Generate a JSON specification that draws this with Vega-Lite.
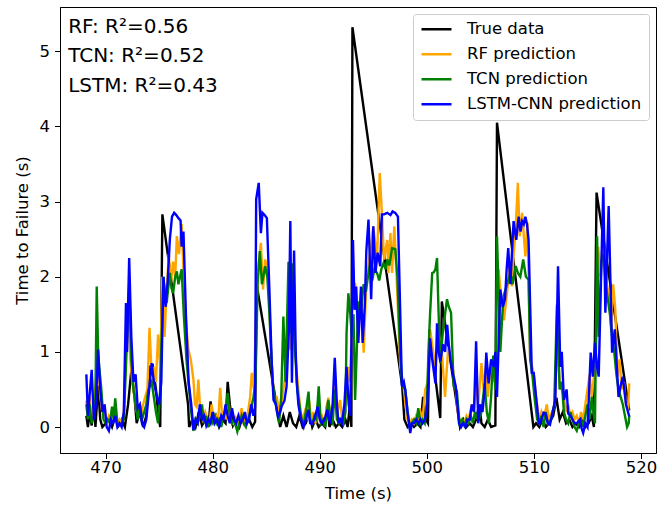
{
"$schema": "https://vega.github.io/schema/vega-lite/v6.json",
"width": 596, "height": 446,
"autosize": {"type": "none"},
"padding": {"left": 60, "top": 7, "right": 1, "bottom": 56},
"background": "white",
"config": {
 "font": "DejaVu Sans",
 "view": {"stroke": "black", "strokeWidth": 1},
 "axis": {"grid": false, "domainColor": "black", "tickColor": "black", "labelColor": "black", "titleColor": "black", "labelFontSize": 16.5, "titleFontSize": 16.5, "titleFontWeight": "normal", "tickSize": 5.5, "labelFont": "DejaVu Sans", "titleFont": "DejaVu Sans"},
 "legend": {"orient": "top-right", "offset": 7, "symbolType": "stroke", "symbolStrokeWidth": 2.4, "symbolSize": 900, "labelFontSize": 16.5, "labelFont": "DejaVu Sans", "labelColor": "black", "labelOffset": 14, "labelLimit": 400, "padding": 7, "rowPadding": 8, "clipHeight": 16.5, "fillColor": "white", "strokeColor": "#cccccc", "cornerRadius": 3, "title": null}
},
"datasets": {
"truth": [
{"t":468.2,"v":0.15},{"t":468.35,"v":0.0},{"t":468.5,"v":0.2},{"t":468.7,"v":0.02},{"t":468.9,"v":0.3},{"t":469.05,"v":0.0},{"t":469.3,"v":0.55},{"t":469.5,"v":0.1},{"t":469.7,"v":0.0},{"t":470.0,"v":0.05},{"t":470.3,"v":0.1},{"t":470.6,"v":0.0},{"t":470.9,"v":0.15},{"t":471.2,"v":0.02},{"t":471.5,"v":0.1},{"t":471.8,"v":0.0},{"t":472.1,"v":0.3},{"t":472.4,"v":0.75},{"t":472.7,"v":0.4},{"t":472.9,"v":0.05},{"t":473.2,"v":0.2},{"t":473.5,"v":0.0},{"t":473.8,"v":0.15},{"t":474.1,"v":0.8},{"t":474.4,"v":0.82},{"t":474.7,"v":0.5},{"t":474.9,"v":0.2},{"t":475.1,"v":0.0},{"t":475.3,"v":2.83},{"t":477.7,"v":0.3},{"t":477.8,"v":0.0},{"t":478.1,"v":0.1},{"t":478.4,"v":0.0},{"t":478.7,"v":0.2},{"t":479.0,"v":0.02},{"t":479.3,"v":0.1},{"t":479.6,"v":0.0},{"t":479.8,"v":0.34},{"t":480.0,"v":0.05},{"t":480.3,"v":0.15},{"t":480.6,"v":0.0},{"t":480.9,"v":0.1},{"t":481.2,"v":0.05},{"t":481.4,"v":0.6},{"t":481.6,"v":0.3},{"t":481.9,"v":0.02},{"t":482.2,"v":0.1},{"t":482.5,"v":0.0},{"t":482.8,"v":0.15},{"t":483.1,"v":0.05},{"t":483.4,"v":0.1},{"t":483.7,"v":0.0},{"t":483.96,"v":0.07},{"t":484.1,"v":1.9},{"t":486.3,"v":0.0},{"t":486.6,"v":0.15},{"t":486.9,"v":0.0},{"t":487.2,"v":0.2},{"t":487.5,"v":0.05},{"t":487.8,"v":0.0},{"t":488.1,"v":0.15},{"t":488.4,"v":0.0},{"t":488.7,"v":0.05},{"t":489.0,"v":0.2},{"t":489.3,"v":0.0},{"t":489.6,"v":0.1},{"t":489.9,"v":0.0},{"t":490.2,"v":0.05},{"t":490.5,"v":0.0},{"t":490.7,"v":0.32},{"t":490.9,"v":0.0},{"t":491.2,"v":0.1},{"t":491.5,"v":0.0},{"t":491.8,"v":0.05},{"t":492.1,"v":0.0},{"t":492.4,"v":0.1},{"t":492.6,"v":0.0},{"t":492.8,"v":0.27},{"t":492.95,"v":0.0},{"t":493.05,"v":5.32},{"t":497.7,"v":0.54},{"t":497.9,"v":0.1},{"t":498.2,"v":0.0},{"t":498.5,"v":0.05},{"t":498.8,"v":0.0},{"t":499.1,"v":0.05},{"t":499.4,"v":0.0},{"t":499.65,"v":0.4},{"t":499.9,"v":0.1},{"t":500.1,"v":0.05},{"t":500.25,"v":1.3},{"t":501.25,"v":0.12},{"t":501.4,"v":1.67},{"t":503.1,"v":0.0},{"t":503.4,"v":0.1},{"t":503.7,"v":0.0},{"t":504.0,"v":0.05},{"t":504.3,"v":0.0},{"t":504.6,"v":0.1},{"t":504.9,"v":0.3},{"t":505.1,"v":0.05},{"t":505.4,"v":0.0},{"t":505.7,"v":0.1},{"t":506.0,"v":0.0},{"t":506.4,"v":0.02},{"t":506.55,"v":4.05},{"t":509.95,"v":0.0},{"t":510.2,"v":0.05},{"t":510.5,"v":0.0},{"t":510.8,"v":0.1},{"t":511.1,"v":0.0},{"t":511.4,"v":0.05},{"t":511.8,"v":0.15},{"t":512.1,"v":0.39},{"t":512.4,"v":0.1},{"t":512.7,"v":0.2},{"t":513.0,"v":0.05},{"t":513.3,"v":0.1},{"t":513.6,"v":0.0},{"t":513.9,"v":0.05},{"t":514.2,"v":0.0},{"t":514.5,"v":0.1},{"t":514.8,"v":0.0},{"t":515.1,"v":0.05},{"t":515.4,"v":0.15},{"t":515.6,"v":0.0},{"t":515.85,"v":3.12},{"t":518.9,"v":0.22}
],
"rf": [
{"t":468.2,"v":0.35},{"t":468.35,"v":0.15},{"t":468.5,"v":0.4},{"t":468.7,"v":0.1},{"t":468.9,"v":0.3},{"t":469.1,"v":0.6},{"t":469.3,"v":0.9},{"t":469.5,"v":0.4},{"t":469.7,"v":0.2},{"t":469.9,"v":0.3},{"t":470.1,"v":0.05},{"t":470.3,"v":0.15},{"t":470.5,"v":0.1},{"t":470.7,"v":0.25},{"t":470.9,"v":0.1},{"t":471.1,"v":0.05},{"t":471.3,"v":0.1},{"t":471.5,"v":0.05},{"t":471.7,"v":0.2},{"t":471.9,"v":1.0},{"t":472.1,"v":1.7},{"t":472.3,"v":0.9},{"t":472.5,"v":0.6},{"t":472.7,"v":0.4},{"t":472.9,"v":0.2},{"t":473.1,"v":0.3},{"t":473.3,"v":0.15},{"t":473.5,"v":0.3},{"t":473.7,"v":0.4},{"t":473.9,"v":0.5},{"t":474.1,"v":1.32},{"t":474.3,"v":0.7},{"t":474.5,"v":0.8},{"t":474.7,"v":0.6},{"t":474.9,"v":1.23},{"t":475.1,"v":0.8},{"t":475.3,"v":2.0},{"t":475.5,"v":1.2},{"t":475.7,"v":1.8},{"t":475.9,"v":2.3},{"t":476.1,"v":1.9},{"t":476.3,"v":2.2},{"t":476.5,"v":2.0},{"t":476.65,"v":2.54},{"t":476.85,"v":2.3},{"t":477.1,"v":2.7},{"t":477.3,"v":2.0},{"t":477.5,"v":1.4},{"t":477.73,"v":1.03},{"t":477.95,"v":0.9},{"t":478.2,"v":0.63},{"t":478.35,"v":0.3},{"t":478.5,"v":0.27},{"t":478.66,"v":0.63},{"t":478.85,"v":0.2},{"t":479.05,"v":0.1},{"t":479.3,"v":0.2},{"t":479.5,"v":0.1},{"t":479.7,"v":0.05},{"t":479.9,"v":0.3},{"t":480.1,"v":0.1},{"t":480.3,"v":0.15},{"t":480.5,"v":0.05},{"t":480.7,"v":0.52},{"t":480.9,"v":0.1},{"t":481.1,"v":0.2},{"t":481.3,"v":0.1},{"t":481.5,"v":0.3},{"t":481.7,"v":0.1},{"t":481.9,"v":0.05},{"t":482.1,"v":0.15},{"t":482.3,"v":0.0},{"t":482.5,"v":0.1},{"t":482.7,"v":0.25},{"t":482.9,"v":0.05},{"t":483.1,"v":0.1},{"t":483.3,"v":0.2},{"t":483.5,"v":0.4},{"t":483.65,"v":0.72},{"t":483.85,"v":0.5},{"t":484.05,"v":1.5},{"t":484.27,"v":2.14},{"t":484.5,"v":2.45},{"t":484.7,"v":1.83},{"t":484.9,"v":2.23},{"t":485.2,"v":2.0},{"t":485.45,"v":1.0},{"t":485.7,"v":0.4},{"t":485.98,"v":0.4},{"t":486.2,"v":0.2},{"t":486.4,"v":0.3},{"t":486.7,"v":0.6},{"t":486.9,"v":0.9},{"t":487.1,"v":1.4},{"t":487.24,"v":1.03},{"t":487.4,"v":1.8},{"t":487.6,"v":1.4},{"t":487.8,"v":0.8},{"t":488.0,"v":0.5},{"t":488.2,"v":0.2},{"t":488.4,"v":0.1},{"t":488.6,"v":0.2},{"t":488.8,"v":0.1},{"t":489.0,"v":0.35},{"t":489.2,"v":0.1},{"t":489.4,"v":0.2},{"t":489.6,"v":0.05},{"t":489.8,"v":0.3},{"t":490.0,"v":0.1},{"t":490.2,"v":0.15},{"t":490.4,"v":0.05},{"t":490.6,"v":0.2},{"t":490.8,"v":0.39},{"t":491.0,"v":0.1},{"t":491.2,"v":0.2},{"t":491.4,"v":0.6},{"t":491.6,"v":0.15},{"t":491.9,"v":0.36},{"t":492.1,"v":0.1},{"t":492.3,"v":0.2},{"t":492.5,"v":0.5},{"t":492.7,"v":0.8},{"t":492.85,"v":0.6},{"t":493.0,"v":1.47},{"t":493.3,"v":1.92},{"t":493.6,"v":1.25},{"t":493.85,"v":1.78},{"t":494.1,"v":0.99},{"t":494.35,"v":1.92},{"t":494.7,"v":2.32},{"t":495.0,"v":2.67},{"t":495.35,"v":2.23},{"t":495.6,"v":3.38},{"t":495.8,"v":2.85},{"t":496.0,"v":2.23},{"t":496.3,"v":2.49},{"t":496.4,"v":2.05},{"t":496.6,"v":2.58},{"t":496.75,"v":2.05},{"t":496.96,"v":2.67},{"t":497.2,"v":1.92},{"t":497.52,"v":0.8},{"t":497.8,"v":0.58},{"t":498.0,"v":0.3},{"t":498.2,"v":0.1},{"t":498.4,"v":0.05},{"t":498.6,"v":0.1},{"t":498.8,"v":0.05},{"t":499.0,"v":0.15},{"t":499.2,"v":0.1},{"t":499.4,"v":0.2},{"t":499.6,"v":0.1},{"t":499.85,"v":0.5},{"t":500.1,"v":0.6},{"t":500.3,"v":1.3},{"t":500.5,"v":1.1},{"t":500.8,"v":0.8},{"t":501.1,"v":1.25},{"t":501.4,"v":1.0},{"t":501.7,"v":0.4},{"t":502.0,"v":1.07},{"t":502.35,"v":0.85},{"t":502.7,"v":0.5},{"t":502.9,"v":0.2},{"t":503.1,"v":0.05},{"t":503.3,"v":0.1},{"t":503.5,"v":0.05},{"t":503.7,"v":0.15},{"t":503.9,"v":0.1},{"t":504.2,"v":0.3},{"t":504.4,"v":0.2},{"t":504.6,"v":0.6},{"t":504.8,"v":0.3},{"t":505.1,"v":0.85},{"t":505.3,"v":0.5},{"t":505.5,"v":0.8},{"t":505.7,"v":0.4},{"t":506.0,"v":0.87},{"t":506.2,"v":0.6},{"t":506.4,"v":0.7},{"t":506.7,"v":2.1},{"t":506.9,"v":1.78},{"t":507.2,"v":1.42},{"t":507.55,"v":1.87},{"t":507.75,"v":2.2},{"t":507.95,"v":1.87},{"t":508.1,"v":2.3},{"t":508.27,"v":2.58},{"t":508.5,"v":3.25},{"t":508.67,"v":2.54},{"t":508.9,"v":2.85},{"t":509.2,"v":2.27},{"t":509.4,"v":2.72},{"t":509.65,"v":0.9},{"t":509.98,"v":0.72},{"t":510.2,"v":0.4},{"t":510.5,"v":0.1},{"t":510.7,"v":0.2},{"t":510.9,"v":0.1},{"t":511.2,"v":0.3},{"t":511.4,"v":0.1},{"t":511.7,"v":0.2},{"t":511.95,"v":0.3},{"t":512.15,"v":1.2},{"t":512.4,"v":0.6},{"t":512.6,"v":0.5},{"t":512.8,"v":0.4},{"t":513.0,"v":0.2},{"t":513.2,"v":0.3},{"t":513.4,"v":0.15},{"t":513.6,"v":0.2},{"t":513.8,"v":0.1},{"t":514.0,"v":0.15},{"t":514.2,"v":0.05},{"t":514.4,"v":0.2},{"t":514.6,"v":0.1},{"t":514.8,"v":0.3},{"t":515.0,"v":0.5},{"t":515.2,"v":0.7},{"t":515.4,"v":0.4},{"t":515.6,"v":0.67},{"t":515.8,"v":1.0},{"t":516.0,"v":2.4},{"t":516.2,"v":2.0},{"t":516.5,"v":2.6},{"t":516.7,"v":2.0},{"t":517.0,"v":1.74},{"t":517.2,"v":1.3},{"t":517.4,"v":1.9},{"t":517.6,"v":1.56},{"t":517.8,"v":0.67},{"t":518.0,"v":0.9},{"t":518.2,"v":0.5},{"t":518.4,"v":0.6},{"t":518.6,"v":0.3},{"t":518.8,"v":0.25},{"t":518.9,"v":0.58}
],
"tcn": [
{"t":468.2,"v":0.3},{"t":468.35,"v":0.1},{"t":468.5,"v":0.3},{"t":468.7,"v":0.05},{"t":468.9,"v":0.15},{"t":469.05,"v":0.4},{"t":469.17,"v":1.87},{"t":469.3,"v":1.0},{"t":469.4,"v":0.8},{"t":469.6,"v":0.5},{"t":469.8,"v":0.1},{"t":470.0,"v":0.05},{"t":470.2,"v":0.1},{"t":470.4,"v":0.05},{"t":470.6,"v":0.27},{"t":470.75,"v":0.1},{"t":470.9,"v":0.38},{"t":471.1,"v":0.05},{"t":471.3,"v":0.02},{"t":471.5,"v":0.05},{"t":471.7,"v":0.1},{"t":471.9,"v":0.8},{"t":472.2,"v":1.9},{"t":472.4,"v":0.9},{"t":472.6,"v":0.5},{"t":472.8,"v":0.3},{"t":473.0,"v":0.1},{"t":473.2,"v":0.3},{"t":473.4,"v":0.1},{"t":473.6,"v":0.2},{"t":473.8,"v":0.3},{"t":474.0,"v":0.5},{"t":474.3,"v":0.6},{"t":474.5,"v":0.4},{"t":474.7,"v":0.2},{"t":474.9,"v":0.05},{"t":475.1,"v":0.5},{"t":475.24,"v":1.25},{"t":475.4,"v":2.0},{"t":475.55,"v":1.75},{"t":475.7,"v":1.65},{"t":476.0,"v":2.05},{"t":476.15,"v":1.85},{"t":476.3,"v":1.78},{"t":476.5,"v":2.0},{"t":476.65,"v":2.07},{"t":476.8,"v":1.9},{"t":476.95,"v":2.0},{"t":477.1,"v":2.1},{"t":477.3,"v":1.5},{"t":477.55,"v":0.9},{"t":477.8,"v":0.5},{"t":478.0,"v":0.2},{"t":478.2,"v":-0.05},{"t":478.4,"v":0.1},{"t":478.6,"v":0.05},{"t":478.8,"v":0.15},{"t":479.0,"v":0.3},{"t":479.2,"v":0.05},{"t":479.4,"v":0.15},{"t":479.6,"v":0.0},{"t":479.8,"v":0.1},{"t":480.0,"v":0.05},{"t":480.2,"v":0.15},{"t":480.4,"v":0.05},{"t":480.6,"v":0.1},{"t":480.8,"v":0.0},{"t":481.0,"v":0.15},{"t":481.2,"v":0.2},{"t":481.4,"v":0.45},{"t":481.6,"v":0.15},{"t":481.8,"v":0.05},{"t":482.0,"v":0.1},{"t":482.3,"v":-0.06},{"t":482.5,"v":0.05},{"t":482.7,"v":0.15},{"t":482.9,"v":0.05},{"t":483.1,"v":0.0},{"t":483.3,"v":0.1},{"t":483.5,"v":0.2},{"t":483.8,"v":0.39},{"t":484.0,"v":0.6},{"t":484.2,"v":1.92},{"t":484.4,"v":2.34},{"t":484.6,"v":1.9},{"t":484.9,"v":2.14},{"t":485.1,"v":2.0},{"t":485.3,"v":1.5},{"t":485.6,"v":0.58},{"t":485.8,"v":0.4},{"t":486.0,"v":0.2},{"t":486.2,"v":0.05},{"t":486.4,"v":0.4},{"t":486.6,"v":1.47},{"t":486.8,"v":0.6},{"t":487.08,"v":2.2},{"t":487.24,"v":1.25},{"t":487.5,"v":2.18},{"t":487.7,"v":1.0},{"t":487.9,"v":0.5},{"t":488.1,"v":0.3},{"t":488.3,"v":0.1},{"t":488.5,"v":0.05},{"t":488.7,"v":0.2},{"t":488.95,"v":0.47},{"t":489.1,"v":0.1},{"t":489.3,"v":0.05},{"t":489.5,"v":0.15},{"t":489.7,"v":0.1},{"t":489.9,"v":0.54},{"t":490.1,"v":0.05},{"t":490.3,"v":0.1},{"t":490.5,"v":0.0},{"t":490.8,"v":0.36},{"t":491.0,"v":0.1},{"t":491.2,"v":0.05},{"t":491.4,"v":0.5},{"t":491.6,"v":0.1},{"t":491.8,"v":0.05},{"t":492.0,"v":0.1},{"t":492.2,"v":0.05},{"t":492.4,"v":0.2},{"t":492.5,"v":1.25},{"t":492.67,"v":1.78},{"t":492.85,"v":1.5},{"t":493.0,"v":1.2},{"t":493.15,"v":1.5},{"t":493.3,"v":0.36},{"t":493.45,"v":1.0},{"t":493.6,"v":1.67},{"t":493.8,"v":1.5},{"t":494.1,"v":1.9},{"t":494.3,"v":1.8},{"t":494.5,"v":2.0},{"t":494.7,"v":2.18},{"t":494.9,"v":1.95},{"t":495.1,"v":2.1},{"t":495.35,"v":2.05},{"t":495.55,"v":1.95},{"t":495.75,"v":2.1},{"t":495.95,"v":2.18},{"t":496.15,"v":2.1},{"t":496.3,"v":2.23},{"t":496.5,"v":2.15},{"t":496.75,"v":2.38},{"t":497.05,"v":2.37},{"t":497.25,"v":2.0},{"t":497.5,"v":1.0},{"t":497.7,"v":0.55},{"t":497.98,"v":0.5},{"t":498.2,"v":0.2},{"t":498.4,"v":0.0},{"t":498.6,"v":0.05},{"t":498.8,"v":0.1},{"t":499.0,"v":0.05},{"t":499.2,"v":0.25},{"t":499.4,"v":0.05},{"t":499.6,"v":0.1},{"t":499.8,"v":0.05},{"t":500.0,"v":0.3},{"t":500.15,"v":1.0},{"t":500.3,"v":1.5},{"t":500.5,"v":2.05},{"t":500.65,"v":2.06},{"t":500.8,"v":2.1},{"t":500.95,"v":2.25},{"t":501.1,"v":1.5},{"t":501.26,"v":0.85},{"t":501.45,"v":1.2},{"t":501.7,"v":1.5},{"t":501.88,"v":1.7},{"t":502.05,"v":1.6},{"t":502.26,"v":1.52},{"t":502.5,"v":0.54},{"t":502.8,"v":0.48},{"t":503.05,"v":0.05},{"t":503.3,"v":0.1},{"t":503.5,"v":0.02},{"t":503.7,"v":0.1},{"t":503.9,"v":0.05},{"t":504.1,"v":0.15},{"t":504.3,"v":0.05},{"t":504.5,"v":0.2},{"t":504.67,"v":0.12},{"t":504.85,"v":0.1},{"t":505.1,"v":0.2},{"t":505.4,"v":0.58},{"t":505.6,"v":0.2},{"t":505.8,"v":0.05},{"t":506.0,"v":0.4},{"t":506.2,"v":0.95},{"t":506.4,"v":0.5},{"t":506.55,"v":2.54},{"t":506.7,"v":1.8},{"t":506.86,"v":1.0},{"t":507.05,"v":1.5},{"t":507.2,"v":1.76},{"t":507.5,"v":1.9},{"t":507.8,"v":2.05},{"t":508.0,"v":1.9},{"t":508.3,"v":2.14},{"t":508.5,"v":2.05},{"t":508.73,"v":2.0},{"t":509.0,"v":2.23},{"t":509.25,"v":2.0},{"t":509.5,"v":1.96},{"t":509.65,"v":0.9},{"t":509.85,"v":0.7},{"t":510.05,"v":0.4},{"t":510.3,"v":0.1},{"t":510.5,"v":0.05},{"t":510.7,"v":0.15},{"t":510.9,"v":0.0},{"t":511.1,"v":0.2},{"t":511.3,"v":0.05},{"t":511.6,"v":0.1},{"t":511.9,"v":0.3},{"t":512.15,"v":1.63},{"t":512.4,"v":0.5},{"t":512.6,"v":0.6},{"t":512.8,"v":0.2},{"t":513.0,"v":0.1},{"t":513.2,"v":0.05},{"t":513.4,"v":0.2},{"t":513.6,"v":0.1},{"t":513.8,"v":0.0},{"t":514.0,"v":-0.05},{"t":514.2,"v":0.05},{"t":514.4,"v":0.1},{"t":514.6,"v":0.0},{"t":514.8,"v":0.15},{"t":515.0,"v":0.3},{"t":515.2,"v":0.1},{"t":515.4,"v":0.4},{"t":515.55,"v":0.2},{"t":515.7,"v":0.05},{"t":515.9,"v":2.54},{"t":516.05,"v":1.2},{"t":516.3,"v":2.2},{"t":516.5,"v":2.3},{"t":516.7,"v":1.9},{"t":516.9,"v":1.7},{"t":517.1,"v":1.5},{"t":517.3,"v":1.2},{"t":517.5,"v":1.0},{"t":517.7,"v":0.7},{"t":517.9,"v":0.5},{"t":518.1,"v":0.4},{"t":518.3,"v":0.3},{"t":518.5,"v":0.15},{"t":518.7,"v":0.0},{"t":518.85,"v":0.05},{"t":518.9,"v":0.15}
],
"lstm": [
{"t":468.2,"v":0.7},{"t":468.35,"v":0.15},{"t":468.55,"v":0.5},{"t":468.7,"v":0.76},{"t":468.9,"v":0.1},{"t":469.1,"v":0.3},{"t":469.3,"v":1.03},{"t":469.5,"v":0.5},{"t":469.7,"v":0.2},{"t":469.9,"v":0.3},{"t":470.1,"v":0.0},{"t":470.3,"v":-0.05},{"t":470.5,"v":0.1},{"t":470.7,"v":0.05},{"t":470.9,"v":0.15},{"t":471.1,"v":0.0},{"t":471.3,"v":0.05},{"t":471.5,"v":0.0},{"t":471.7,"v":0.2},{"t":471.9,"v":1.65},{"t":472.0,"v":1.0},{"t":472.2,"v":2.25},{"t":472.4,"v":1.2},{"t":472.6,"v":0.6},{"t":472.8,"v":0.7},{"t":473.0,"v":0.25},{"t":473.2,"v":0.3},{"t":473.4,"v":0.05},{"t":473.6,"v":0.0},{"t":473.8,"v":0.1},{"t":474.0,"v":0.4},{"t":474.3,"v":0.85},{"t":474.5,"v":0.6},{"t":474.8,"v":0.4},{"t":475.0,"v":0.3},{"t":475.2,"v":0.6},{"t":475.4,"v":2.0},{"t":475.6,"v":1.6},{"t":475.8,"v":1.95},{"t":476.0,"v":2.5},{"t":476.2,"v":2.8},{"t":476.4,"v":2.85},{"t":476.6,"v":2.82},{"t":476.8,"v":2.78},{"t":477.0,"v":2.75},{"t":477.1,"v":2.4},{"t":477.27,"v":2.6},{"t":477.5,"v":1.5},{"t":477.75,"v":0.6},{"t":478.0,"v":0.3},{"t":478.2,"v":-0.04},{"t":478.4,"v":0.1},{"t":478.6,"v":0.05},{"t":478.8,"v":0.3},{"t":479.0,"v":0.1},{"t":479.2,"v":0.15},{"t":479.4,"v":0.02},{"t":479.6,"v":0.1},{"t":479.8,"v":0.05},{"t":480.0,"v":0.2},{"t":480.2,"v":0.05},{"t":480.4,"v":0.1},{"t":480.6,"v":0.0},{"t":480.8,"v":0.15},{"t":481.0,"v":0.1},{"t":481.2,"v":0.3},{"t":481.4,"v":0.15},{"t":481.6,"v":0.05},{"t":481.8,"v":0.25},{"t":482.0,"v":0.1},{"t":482.2,"v":0.05},{"t":482.4,"v":0.15},{"t":482.6,"v":0.05},{"t":482.8,"v":0.1},{"t":483.0,"v":0.2},{"t":483.2,"v":0.05},{"t":483.4,"v":0.1},{"t":483.6,"v":0.3},{"t":483.8,"v":0.15},{"t":483.95,"v":0.25},{"t":484.06,"v":3.03},{"t":484.3,"v":3.25},{"t":484.5,"v":2.58},{"t":484.65,"v":2.85},{"t":484.85,"v":2.82},{"t":485.06,"v":2.78},{"t":485.3,"v":1.8},{"t":485.5,"v":0.9},{"t":485.68,"v":0.36},{"t":485.9,"v":0.3},{"t":486.1,"v":0.14},{"t":486.3,"v":0.2},{"t":486.45,"v":0.28},{"t":486.7,"v":0.35},{"t":486.9,"v":0.54},{"t":487.1,"v":1.25},{"t":487.25,"v":2.74},{"t":487.4,"v":0.59},{"t":487.6,"v":2.35},{"t":487.75,"v":1.0},{"t":487.86,"v":0.58},{"t":488.0,"v":0.3},{"t":488.2,"v":0.13},{"t":488.5,"v":0.0},{"t":488.7,"v":0.1},{"t":488.95,"v":0.23},{"t":489.1,"v":0.05},{"t":489.26,"v":0.04},{"t":489.5,"v":0.1},{"t":489.8,"v":0.27},{"t":490.0,"v":0.1},{"t":490.2,"v":0.05},{"t":490.45,"v":0.1},{"t":490.7,"v":0.23},{"t":490.85,"v":0.1},{"t":491.0,"v":0.07},{"t":491.2,"v":0.3},{"t":491.4,"v":0.92},{"t":491.6,"v":0.3},{"t":491.75,"v":0.05},{"t":491.9,"v":0.1},{"t":492.07,"v":0.05},{"t":492.3,"v":0.3},{"t":492.5,"v":0.8},{"t":492.7,"v":0.3},{"t":492.85,"v":0.15},{"t":493.1,"v":2.49},{"t":493.25,"v":1.56},{"t":493.4,"v":1.87},{"t":493.6,"v":1.12},{"t":493.85,"v":1.87},{"t":494.0,"v":1.12},{"t":494.2,"v":1.6},{"t":494.35,"v":2.35},{"t":494.55,"v":2.76},{"t":494.8,"v":1.7},{"t":495.0,"v":2.67},{"t":495.2,"v":2.05},{"t":495.4,"v":2.32},{"t":495.65,"v":2.14},{"t":495.8,"v":2.83},{"t":496.0,"v":2.83},{"t":496.3,"v":2.85},{"t":496.6,"v":2.82},{"t":496.8,"v":2.87},{"t":497.05,"v":2.85},{"t":497.3,"v":2.8},{"t":497.5,"v":1.6},{"t":497.67,"v":0.54},{"t":497.85,"v":0.6},{"t":497.98,"v":0.5},{"t":498.2,"v":0.2},{"t":498.45,"v":-0.08},{"t":498.6,"v":0.05},{"t":498.8,"v":0.05},{"t":499.0,"v":0.1},{"t":499.2,"v":0.05},{"t":499.4,"v":0.1},{"t":499.6,"v":0.05},{"t":499.8,"v":0.1},{"t":500.0,"v":0.2},{"t":500.15,"v":0.6},{"t":500.3,"v":1.18},{"t":500.5,"v":0.9},{"t":500.8,"v":0.58},{"t":500.95,"v":1.38},{"t":501.1,"v":1.0},{"t":501.26,"v":0.87},{"t":501.5,"v":1.1},{"t":501.7,"v":1.0},{"t":501.9,"v":1.36},{"t":502.05,"v":1.1},{"t":502.2,"v":0.9},{"t":502.45,"v":0.7},{"t":502.7,"v":0.54},{"t":502.85,"v":0.3},{"t":503.0,"v":0.05},{"t":503.2,"v":0.0},{"t":503.4,"v":0.05},{"t":503.6,"v":0.0},{"t":503.8,"v":0.1},{"t":504.0,"v":0.1},{"t":504.2,"v":0.3},{"t":504.4,"v":0.2},{"t":504.6,"v":1.14},{"t":504.8,"v":0.05},{"t":505.0,"v":0.3},{"t":505.2,"v":0.2},{"t":505.4,"v":0.5},{"t":505.55,"v":0.99},{"t":505.77,"v":0.58},{"t":506.0,"v":0.9},{"t":506.24,"v":0.8},{"t":506.4,"v":1.0},{"t":506.55,"v":0.4},{"t":506.86,"v":1.83},{"t":507.1,"v":1.6},{"t":507.3,"v":1.7},{"t":507.45,"v":2.1},{"t":507.6,"v":2.38},{"t":507.8,"v":1.9},{"t":507.95,"v":2.32},{"t":508.1,"v":2.74},{"t":508.35,"v":2.49},{"t":508.57,"v":2.8},{"t":508.75,"v":2.6},{"t":508.9,"v":2.74},{"t":509.05,"v":2.7},{"t":509.2,"v":2.8},{"t":509.35,"v":2.7},{"t":509.5,"v":2.49},{"t":509.65,"v":1.6},{"t":509.8,"v":0.72},{"t":509.98,"v":0.72},{"t":510.2,"v":0.4},{"t":510.45,"v":0.05},{"t":510.6,"v":0.05},{"t":510.9,"v":0.19},{"t":511.07,"v":0.18},{"t":511.3,"v":0.05},{"t":511.5,"v":0.03},{"t":511.75,"v":0.2},{"t":512.0,"v":0.36},{"t":512.25,"v":2.14},{"t":512.46,"v":0.8},{"t":512.6,"v":1.0},{"t":512.8,"v":0.36},{"t":513.05,"v":0.5},{"t":513.2,"v":0.18},{"t":513.4,"v":0.15},{"t":513.6,"v":0.1},{"t":513.8,"v":0.05},{"t":514.0,"v":0.05},{"t":514.3,"v":0.1},{"t":514.45,"v":-0.02},{"t":514.6,"v":-0.08},{"t":514.8,"v":0.05},{"t":515.0,"v":0.0},{"t":515.1,"v":0.3},{"t":515.3,"v":0.99},{"t":515.5,"v":0.67},{"t":515.7,"v":1.12},{"t":515.9,"v":0.8},{"t":516.05,"v":0.67},{"t":516.3,"v":2.18},{"t":516.48,"v":3.19},{"t":516.67,"v":1.52},{"t":516.98,"v":2.94},{"t":517.3,"v":0.99},{"t":517.55,"v":1.3},{"t":517.9,"v":0.4},{"t":518.1,"v":0.55},{"t":518.3,"v":0.67},{"t":518.6,"v":0.3},{"t":518.9,"v":0.14}
]
},
"layer": [
 {
  "encoding": {
   "x": {"field": "t", "type": "quantitative", "scale": {"domain": [465.74, 521.4], "nice": false, "zero": false}, "axis": {"values": [470, 480, 490, 500, 510, 520], "format": "d", "title": "Time (s)", "labelPadding": 1, "titlePadding": 9}},
   "y": {"field": "v", "type": "quantitative", "scale": {"domain": [-0.346, 5.59], "nice": false, "zero": false}, "axis": {"values": [0, 1, 2, 3, 4, 5], "format": "d", "title": "Time to Failure (s)", "labelPadding": 5, "titlePadding": 9}}
  },
  "layer": [
   {"data": {"name": "truth"}, "mark": {"type": "line", "strokeWidth": 2.4, "clip": true}, "encoding": {"color": {"datum": "True data", "type": "nominal", "scale": {"domain": ["True data", "RF prediction", "TCN prediction", "LSTM-CNN prediction"], "range": ["black", "orange", "green", "blue"]}}}},
   {"data": {"name": "rf"}, "mark": {"type": "line", "strokeWidth": 2.4, "clip": true}, "encoding": {"color": {"datum": "RF prediction", "type": "nominal"}}},
   {"data": {"name": "tcn"}, "mark": {"type": "line", "strokeWidth": 2.4, "clip": true}, "encoding": {"color": {"datum": "TCN prediction", "type": "nominal"}}},
   {"data": {"name": "lstm"}, "mark": {"type": "line", "strokeWidth": 2.4, "clip": true}, "encoding": {"color": {"datum": "LSTM-CNN prediction", "type": "nominal"}}}
  ]
 },
 {"data": {"values": [{}]}, "mark": {"type": "text", "text": ["RF: R²=0.56", "TCN: R²=0.52", "LSTM: R²=0.43"], "align": "left", "baseline": "alphabetic", "fontSize": 20, "lineHeight": 29.5, "font": "DejaVu Sans", "color": "black"}, "encoding": {"x": {"datum": 466.5, "type": "quantitative"}, "y": {"datum": 5.246, "type": "quantitative"}}}
]
}
